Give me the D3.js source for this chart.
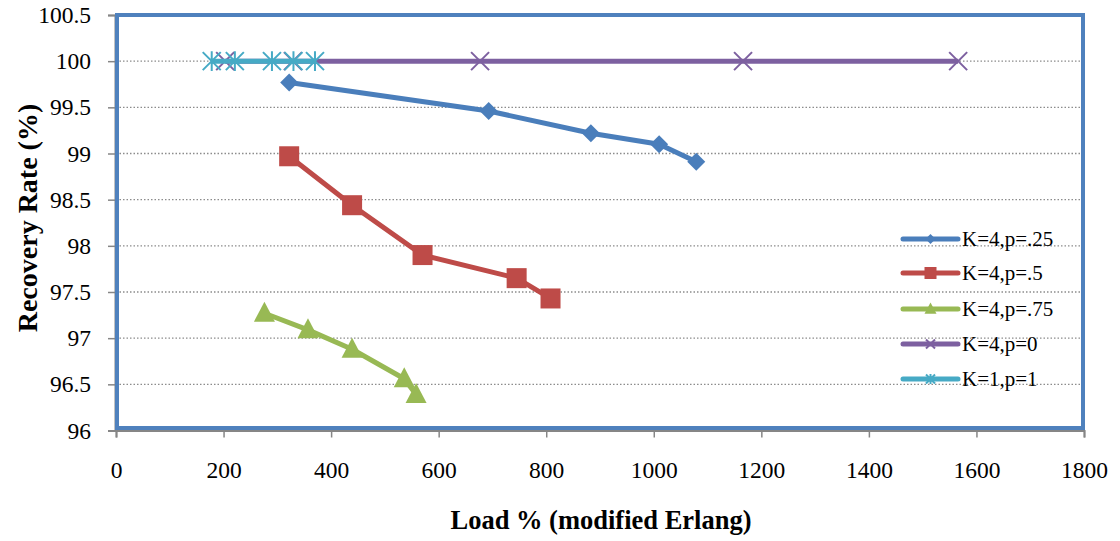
<!DOCTYPE html>
<html>
<head>
<meta charset="utf-8">
<script src="https://cdn.jsdelivr.net/npm/d3@7"></script>
<style>
  html, body { margin: 0; padding: 0; background: #fff; }
  svg { display: block; }
</style>
</head>
<body>
<svg id="chart" width="1120" height="541"></svg>
<script>
// ---- data ----
const seriesNames = ["K=4,p=.25", "K=4,p=.5", "K=4,p=.75", "K=4,p=0", "K=1,p=1"];
const loadP25 = [322, 693, 883, 1010, 1079];
const rateP25 = [99.77, 99.46, 99.22, 99.10, 98.91];
const loadP50 = [322, 439, 570, 745, 808];
const rateP50 = [98.97, 98.44, 97.90, 97.65, 97.43];
const loadP75 = [276, 357, 439, 536, 558];
const rateP75 = [97.27, 97.09, 96.88, 96.56, 96.39];
const loadP0 = [203, 329, 677, 1166, 1566];
const rateP0 = [100, 100, 100, 100, 100];
const loadK1 = [178, 221, 290, 330, 370];
const rateK1 = [100, 100, 100, 100, 100];
const xTicks = [0, 200, 400, 600, 800, 1000, 1200, 1400, 1600, 1800];
const yTicks = [96, 96.5, 97, 97.5, 98, 98.5, 99, 99.5, 100, 100.5];

const FONT = "'Liberation Serif', 'Times New Roman', serif";
const colors = ["#4A7EBB", "#BE4B48", "#98B954", "#7D60A0", "#46AAC5"];
const markers = ["diamond", "square", "triangle", "x", "asterisk"];
const series = [
  [loadP25, rateP25], [loadP50, rateP50], [loadP75, rateP75], [loadP0, rateP0], [loadK1, rateK1]
].map((d, i) => ({
  name: seriesNames[i], color: colors[i], marker: markers[i],
  pts: d[0].map((x, j) => ({ x, y: d[1][j] }))
}));

const svg = d3.select("#chart");
const L = 116, R = 1084, T = 15, B = 430.5;
const x = d3.scaleLinear().domain([0, 1800]).range([L, R]);
const y = d3.scaleLinear().domain([96, 100.5]).range([B, T]);

// gridlines
svg.append("g").selectAll("line").data(yTicks.filter(t => t > 96 && t < 100.5)).join("line")
  .attr("x1", L).attr("x2", R)
  .attr("y1", d => y(d)).attr("y2", d => y(d))
  .attr("stroke", "#8c8c8c").attr("stroke-width", 1.3).attr("stroke-dasharray", "1.5,2");

// axes
const yAxis = d3.axisLeft(y).tickValues(yTicks).tickSize(7).tickPadding(17).tickFormat(d3.format("~g"));
const xAxis = d3.axisBottom(x).tickValues(xTicks).tickSize(7).tickPadding(24).tickFormat(d3.format("d"));
const gy = svg.append("g").attr("transform", `translate(${L - 1},0)`).call(yAxis);
const gx = svg.append("g").attr("transform", `translate(0,${B})`).call(xAxis);
[gy, gx].forEach(g => {
  g.attr("font-family", null).attr("font-size", null);
  g.select(".domain").attr("stroke", "#868686").attr("stroke-width", 2);
  g.selectAll(".tick line").attr("stroke", "#868686").attr("stroke-width", 1.5);
  g.selectAll(".tick text").style("font-family", FONT)
    .style("font-size", "23.5px").attr("fill", "#000");
});

// plot-area border
svg.append("rect").attr("x", L + 1).attr("y", T).attr("width", R - L - 2).attr("height", B - T - 2.5)
  .attr("fill", "none").attr("stroke", "#4F81BD").attr("stroke-width", 4);

// marker drawing
function drawMarker(g, type, color, size) {
  const s = size;
  if (type === "diamond") {
    g.append("path").attr("d", `M0,${-s}L${s},0L0,${s}L${-s},0Z`).attr("fill", color);
  } else if (type === "square") {
    g.append("rect").attr("x", -s).attr("y", -s).attr("width", 2 * s).attr("height", 2 * s).attr("fill", color);
  } else if (type === "triangle") {
    g.append("path").attr("d", `M0,${-s * 1.1}L${s},${s * 0.8}L${-s},${s * 0.8}Z`).attr("fill", color);
  } else if (type === "x") {
    g.append("path").attr("d", `M${-s},${-s}L${s},${s}M${-s},${s}L${s},${-s}`)
      .attr("stroke", color).attr("stroke-width", 2);
  } else if (type === "asterisk") {
    g.append("path").attr("d", `M${-s},${-s}L${s},${s}M${-s},${s}L${s},${-s}M0,${-s * 1.1}L0,${s * 1.1}`)
      .attr("stroke", color).attr("stroke-width", 2);
  }
}
const mSize = { diamond: 9, square: 10, triangle: 10.5, x: 9, asterisk: 9 };

const line = d3.line().x(d => x(d.x)).y(d => y(d.y));
series.forEach(s => {
  const g = svg.append("g");
  g.append("path").datum(s.pts).attr("d", line).attr("fill", "none")
    .attr("stroke", s.color).attr("stroke-width", 5).attr("stroke-linejoin", "round");
  s.pts.forEach(p => {
    const mg = g.append("g").attr("transform", `translate(${x(p.x)},${y(p.y)})`);
    drawMarker(mg, s.marker, s.color, mSize[s.marker]);
  });
});

// legend
const legY = [239, 273, 309, 344, 379];
const lmSize = { diamond: 5, square: 6, triangle: 6, x: 4.5, asterisk: 4.5 };
series.forEach((s, i) => {
  const g = svg.append("g").attr("transform", `translate(0,${legY[i]})`);
  g.append("line").attr("x1", 903).attr("x2", 958).attr("y1", 0).attr("y2", 0)
    .attr("stroke", s.color).attr("stroke-width", 5).attr("stroke-linecap", "round");
  const mg = g.append("g").attr("transform", "translate(930.5,0)");
  drawMarker(mg, s.marker, s.color, lmSize[s.marker]);
  g.append("text").attr("x", 962).attr("y", 7).style("font-family", FONT).style("font-size", "21px")
    .attr("fill", "#000").text(s.name);
});

// axis titles
svg.append("text").attr("x", 601).attr("y", 529).attr("text-anchor", "middle")
  .style("font-family", FONT).style("font-size", "26.5px").style("font-weight", "bold")
  .text("Load % (modified Erlang)");
svg.append("text").attr("transform", `translate(37,218) rotate(-90)`)
  .attr("text-anchor", "middle").style("font-family", FONT).style("font-size", "28px")
  .style("font-weight", "bold").text("Recovery Rate (%)");
</script>
</body>
</html>
